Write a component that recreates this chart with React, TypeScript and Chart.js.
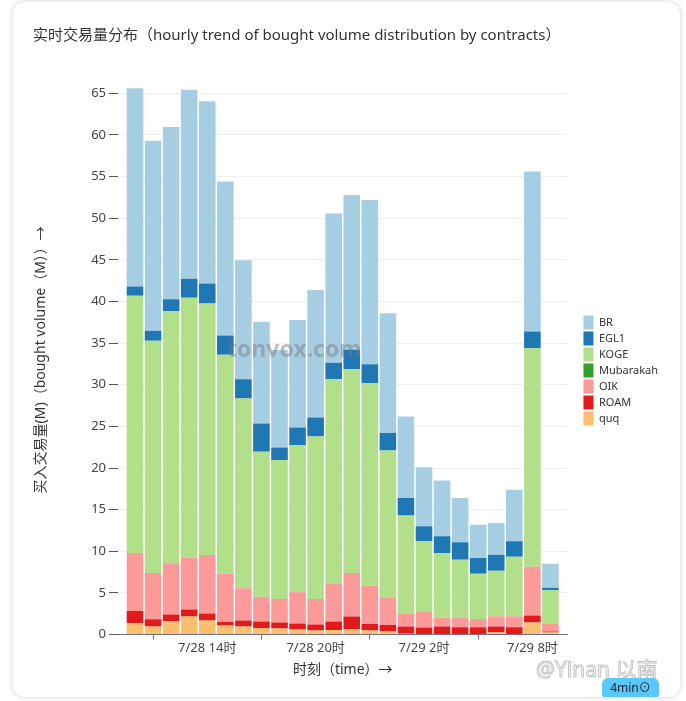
import React, { useEffect, useRef } from 'react';
import { Chart, registerables } from 'chart.js';

Chart.register(...registerables);

const times = [
  '7/28 10时', '7/28 11时', '7/28 12时', '7/28 13时', '7/28 14时', '7/28 15时',
  '7/28 16时', '7/28 17时', '7/28 18时', '7/28 19时', '7/28 20时', '7/28 21时',
  '7/28 22时', '7/28 23时', '7/29 0时', '7/29 1时', '7/29 2时', '7/29 3时',
  '7/29 4时', '7/29 5时', '7/29 6时', '7/29 7时', '7/29 8时', '7/29 9时',
];
const tickLabels = ['7/28 14时', '7/28 20时', '7/29 2时', '7/29 8时'];
const yTicks = [0, 5, 10, 15, 20, 25, 30, 35, 40, 45, 50, 55, 60, 65];

const quq = [1.36, 0.96, 1.6, 2.16, 1.68, 1.08, 0.96, 0.8, 0.72, 0.6, 0.48, 0.56, 0.64, 0.48, 0.36, 0.1, 0.05, 0.05, 0.05, 0.05, 0.24, 0.05, 1.44, 0.24];
const ROAM = [1.48, 0.88, 0.8, 0.84, 0.84, 0.44, 0.72, 0.76, 0.72, 0.72, 0.72, 1.0, 1.52, 0.8, 0.8, 0.86, 0.79, 0.91, 0.83, 0.83, 0.72, 0.83, 0.84, 0.12];
const OIK = [6.96, 5.56, 6.16, 6.24, 7.04, 5.8, 3.88, 3.0, 2.84, 3.76, 3.08, 4.6, 5.24, 4.6, 3.24, 1.6, 1.96, 1.08, 1.16, 1.0, 1.24, 1.32, 5.88, 0.92];
const Mubarakah = [0, 0, 0, 0, 0, 0, 0, 0, 0, 0, 0, 0, 0, 0, 0, 0, 0, 0, 0, 0, 0, 0, 0, 0];
const KOGE = [30.9, 27.9, 30.3, 31.2, 30.2, 26.3, 22.8, 17.4, 16.7, 17.7, 19.5, 24.5, 24.5, 24.3, 17.7, 11.74, 8.4, 7.76, 6.96, 5.44, 5.48, 7.16, 26.24, 4.04];
const EGL1 = [1.1, 1.2, 1.4, 2.3, 2.4, 2.3, 2.3, 3.4, 1.5, 2.1, 2.3, 2.0, 2.3, 2.3, 2.1, 2.1, 1.8, 2.0, 2.1, 1.88, 1.92, 1.84, 2.0, 0.32];
const BR = [23.8, 22.8, 20.7, 22.7, 21.9, 18.5, 14.3, 12.2, 11.7, 12.9, 15.3, 17.9, 18.6, 19.7, 14.4, 9.8, 7.1, 6.7, 5.3, 4.0, 3.8, 6.2, 19.2, 2.88];

const series = [
  { label: 'quq', data: quq, color: '#fdbf6f' },
  { label: 'ROAM', data: ROAM, color: '#e31a1c' },
  { label: 'OIK', data: OIK, color: '#fb9a99' },
  { label: 'Mubarakah', data: Mubarakah, color: '#33a02c' },
  { label: 'KOGE', data: KOGE, color: '#b2df8a' },
  { label: 'EGL1', data: EGL1, color: '#1f78b4' },
  { label: 'BR', data: BR, color: '#a6cee3' },
];

const FONT = '"Noto Sans", "Noto Sans CJK SC", sans-serif';

export default function App() {
  const ref = useRef<HTMLCanvasElement | null>(null);

  useEffect(() => {
    if (!ref.current) return;
    const tickIdx = tickLabels.map((l) => times.indexOf(l));
    const chart = new Chart(ref.current, {
      type: 'bar',
      data: {
        datasets: series.map((s) => ({
          label: s.label,
          data: s.data.map((v, i) => ({ x: i, y: v })),
          backgroundColor: s.color,
          borderWidth: 0,
          barPercentage: 1,
          categoryPercentage: 0.92,
        })),
      },
      options: {
        animation: false,
        responsive: false,
        layout: { padding: { left: 20, right: 12, top: 10, bottom: 19 } },
        plugins: {
          title: {
            display: true,
            text: '实时交易量分布（hourly trend of bought volume distribution by contracts）',
            align: 'start',
            color: '#333',
            font: { family: FONT, size: 15, weight: 'normal' },
            padding: { top: 15, bottom: 40 },
          },
          legend: {
            position: 'right',
            reverse: true,
            title: {
              display: true,
              text: ' ',
              font: { family: FONT, size: 11 },
              padding: { top: 19, bottom: 19 },
            },
            labels: {
              boxWidth: 10,
              boxHeight: 14,
              padding: 2,
              color: '#333',
              font: { family: FONT, size: 11 },
            },
          },
          tooltip: { enabled: false },
        },
        scales: {
          x: {
            type: 'linear',
            min: -0.942,
            max: 23.942,
            stacked: true,
            offset: false,
            afterBuildTicks: (s: any) => {
              s.ticks = tickIdx.map((v) => ({ value: v }));
            },
            ticks: {
              autoSkip: false,
              maxRotation: 0,
              padding: 1,
              color: '#444',
              font: { family: FONT, size: 13 },
              callback: (v: any) => times[v as number],
            },
            grid: { drawOnChartArea: false, drawTicks: true, tickLength: 5, tickColor: '#6e7079' },
            border: { display: true, color: '#6e7079' },
            title: {
              display: true,
              text: '时刻（time）→',
              color: '#333',
              font: { family: FONT, size: 14 },
              padding: { top: 4, bottom: 0 },
            },
          },
          y: {
            min: 0,
            max: 66,
            stacked: true,
            afterBuildTicks: (s: any) => {
              s.ticks = yTicks.map((v) => ({ value: v }));
            },
            afterFit: (s: any) => {
              s.width = 85;
            },
            ticks: { color: '#444', padding: 3, font: { family: FONT, size: 13 } },
            grid: { color: '#eeeeee', tickColor: '#555', tickLength: 9 },
            border: { display: false },
            title: {
              display: true,
              text: '买入交易量(M)（bought volume（M））→',
              color: '#333',
              font: { family: FONT, size: 14 },
              padding: { top: 0, bottom: 0 },
            },
          },
          gap: {
            position: 'right',
            display: true,
            ticks: { display: false },
            grid: { display: false },
            border: { display: false },
            afterFit: (s: any) => {
              s.width = 14;
            },
          },
        },
      } as any,
    });
    return () => chart.destroy();
  }, []);

  return (
    <div style={{ position: 'absolute', left: 0, top: 0, width: 686, height: 701, background: '#fff', overflow: 'hidden' }}>
      <div
        style={{
          position: 'absolute',
          left: 13,
          top: 2,
          width: 667,
          height: 695,
          borderRadius: 12,
          background: '#fff',
          boxShadow: '0 0 6px rgba(0,0,0,0.18)',
          overflow: 'hidden',
        }}
      >
        <canvas ref={ref} width={667} height={695} style={{ position: 'absolute', left: 0, top: 0, width: 667, height: 695 }} />
        <div
          style={{
            position: 'absolute',
            left: 214,
            top: 330,
            fontFamily: FONT,
            fontWeight: 'bold',
            fontSize: 23,
            color: 'rgba(120,120,120,0.45)',
            pointerEvents: 'none',
          }}
        >
          tonvox.com
        </div>
        <div
          style={{
            position: 'absolute',
            left: 523,
            top: 651,
            fontFamily: FONT,
            fontSize: 21,
            color: 'rgba(255,255,255,0.6)',
            WebkitTextStroke: '1px rgba(170,170,170,0.7)',
            pointerEvents: 'none',
          }}
        >
          @Yinan 以南
        </div>
        <div
          style={{
            position: 'absolute',
            left: 589,
            top: 676,
            width: 57,
            height: 22,
            borderRadius: 6,
            background: '#5ac8fa',
            color: '#222',
            fontFamily: FONT,
            fontSize: 12,
            lineHeight: '20px',
            textAlign: 'center',
          }}
        >
          4min⊙
        </div>
      </div>
    </div>
  );
}
